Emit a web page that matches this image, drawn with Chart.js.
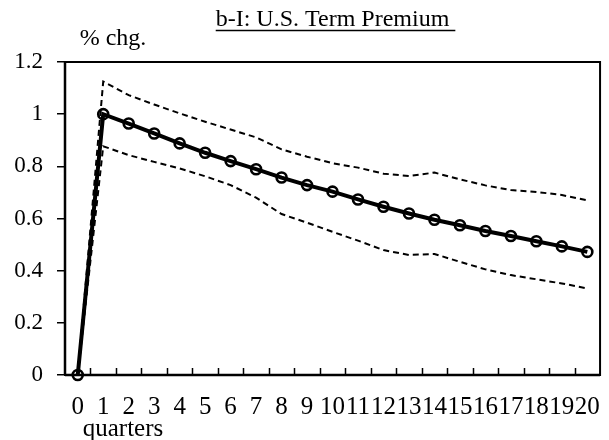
<!DOCTYPE html>
<html><head><meta charset="utf-8">
<script src="https://cdn.jsdelivr.net/npm/chart.js@4"></script>
<style>html,body{margin:0;padding:0;background:#fff}#c{display:block}</style>
</head><body>
<canvas id="c" width="609" height="440" style="width:609px;height:440px"></canvas>
<script>
const quarters = ['0','1','2','3','4','5','6','7','8','9','10','11','12','13','14','15','16','17','18','19','20'];
const response = [0,1.000,0.964,0.926,0.888,0.852,0.820,0.789,0.757,0.728,0.703,0.673,0.645,0.619,0.595,0.574,0.552,0.533,0.513,0.493,0.472];
const upperBand = [0,1.125,1.073,1.037,1.003,0.971,0.941,0.911,0.865,0.837,0.812,0.795,0.772,0.763,0.776,0.750,0.727,0.709,0.702,0.690,0.670];
const lowerBand = [0,0.877,0.843,0.817,0.792,0.762,0.728,0.680,0.617,0.584,0.549,0.515,0.479,0.460,0.464,0.434,0.405,0.383,0.367,0.351,0.332];
const yTickLabels = ['0','0.2','0.4','0.6','0.8','1','1.2'];
const chartTitle = 'b-I: U.S. Term Premium';
const yUnit = '% chg.';
const xTitle = 'quarters';

const FONT = '"Liberation Serif", "Times New Roman", serif';

const decor = {
  id: 'decor',
  afterDraw(chart) {
    const {ctx, chartArea: a, scales: {x}} = chart;
    ctx.save();
    ctx.strokeStyle = '#000';
    ctx.lineWidth = 2;
    ctx.strokeRect(a.left, a.top, a.right - a.left, a.bottom - a.top);
    ctx.lineWidth = 2.5;
    ctx.beginPath();
    ctx.moveTo(a.left, a.bottom); ctx.lineTo(a.right, a.bottom);
    ctx.moveTo(a.left, a.top); ctx.lineTo(a.left, a.bottom);
    ctx.stroke();
    ctx.lineWidth = 1.5;
    ctx.beginPath();
    for (let i = 0; i < quarters.length - 1; i++) {
      const px = Math.round((x.getPixelForValue(i) + x.getPixelForValue(i + 1)) / 2) + 0.5;
      ctx.moveTo(px, a.bottom);
      ctx.lineTo(px, a.bottom - 7);
    }
    ctx.stroke();
    ctx.fillStyle = '#000';
    ctx.textBaseline = 'alphabetic';
    // title
    ctx.font = '24px ' + FONT;
    ctx.textAlign = 'left';
    const cx = (a.left + a.right) / 2;
    const tw = ctx.measureText(chartTitle).width;
    const sw = ctx.measureText(' ').width;
    const tx = cx - tw / 2;
    ctx.fillText(chartTitle, tx, 26);
    ctx.lineWidth = 1.3;
    ctx.beginPath();
    ctx.moveTo(tx, 30.5);
    ctx.lineTo(tx + tw + sw, 30.5);
    ctx.stroke();
    // unit label
    ctx.font = '24px ' + FONT;
    ctx.textAlign = 'center';
    ctx.fillText(yUnit, 113, 45);
    // x title
    ctx.font = '25px ' + FONT;
    ctx.fillText(xTitle, 123, 436);
    ctx.restore();
  }
};

new Chart(document.getElementById('c'), {
  type: 'line',
  data: {
    labels: quarters,
    datasets: [
      {
        label: 'Response',
        data: response,
        borderColor: '#000',
        borderWidth: 4,
        pointRadius: 5,
        pointBorderWidth: 2.6,
        pointBorderColor: '#000',
        pointBackgroundColor: 'rgba(0,0,0,0)',
        tension: 0,
        clip: false
      },
      {
        label: 'Upper',
        data: upperBand,
        borderColor: '#000',
        borderWidth: 2,
        borderDash: [6, 4],
        pointRadius: 0,
        tension: 0,
        clip: false
      },
      {
        label: 'Lower',
        data: lowerBand,
        borderColor: '#000',
        borderWidth: 2,
        borderDash: [6, 4],
        pointRadius: 0,
        tension: 0,
        clip: false
      }
    ]
  },
  options: {
    responsive: false,
    animation: false,
    devicePixelRatio: 1,
    layout: {padding: {top: 62, right: 3, left: 0, bottom: 0}},
    plugins: {legend: {display: false}, title: {display: false}, tooltip: {enabled: false}},
    scales: {
      x: {
        type: 'category',
        offset: true,
        grid: {display: false, offset: true},
        border: {display: false},
        ticks: {
          color: '#000',
          font: {family: FONT, size: 25},
          maxRotation: 0,
          autoSkip: false,
          padding: 9
        },
        afterFit(s) { s.height = 65; }
      },
      y: {
        min: 0,
        max: 1.2,
        grid: {drawOnChartArea: false, color: '#000', lineWidth: 1.5, tickLength: 8},
        border: {display: false},
        ticks: {
          stepSize: 0.2,
          color: '#000',
          font: {family: FONT, size: 23},
          padding: 14,
          callback: (v, i) => yTickLabels[i]
        },
        afterFit(s) { s.width = 65; }
      }
    }
  },
  plugins: [decor]
});
</script>
</body></html>
